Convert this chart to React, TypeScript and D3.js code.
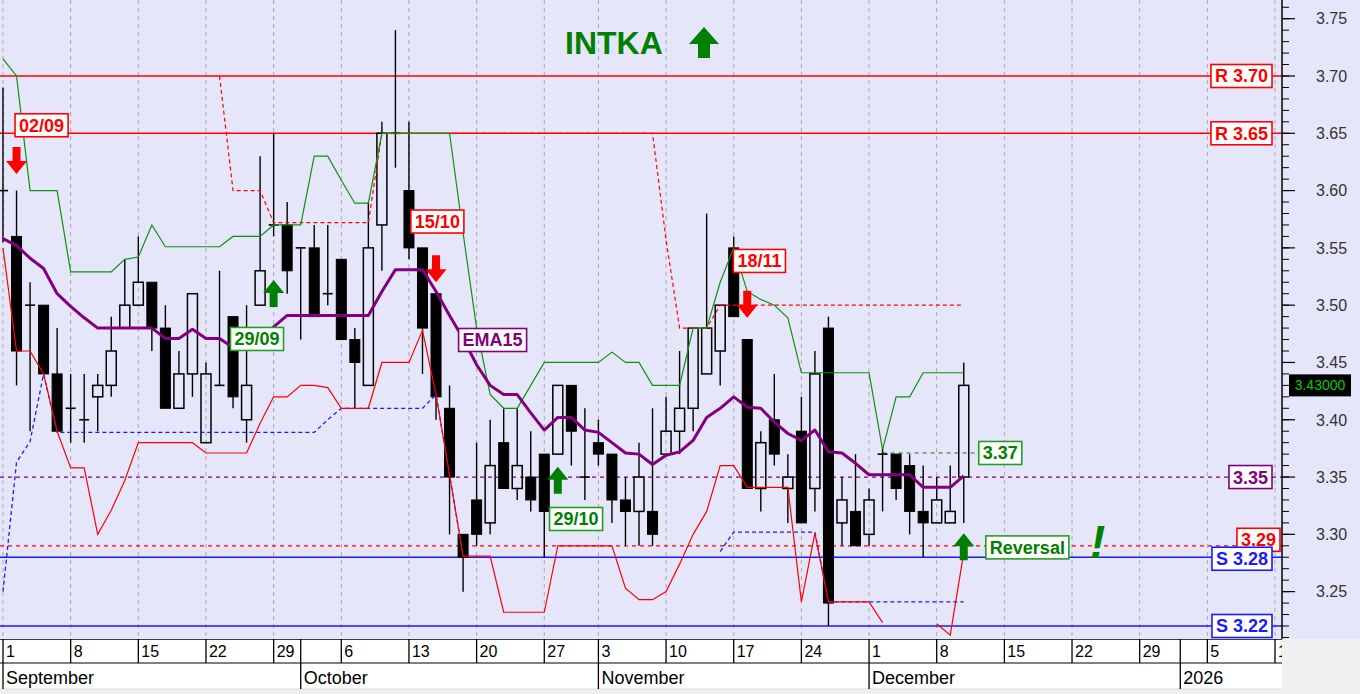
import React, { useLayoutEffect, useRef, useState } from 'react';
import * as d3 from 'd3';

// ---------- DATA ----------
const dates = [
  '01/09','02/09','03/09','04/09','05/09','08/09','09/09','10/09','11/09','12/09',
  '15/09','16/09','17/09','18/09','19/09','22/09','23/09','24/09','25/09','26/09',
  '29/09','30/09','01/10','02/10','03/10','06/10','07/10','08/10','09/10','10/10',
  '13/10','14/10','15/10','16/10','17/10','20/10','21/10','22/10','23/10','24/10',
  '27/10','29/10','30/10','31/10','03/11','04/11','05/11','06/11','07/11','10/11',
  '11/11','12/11','13/11','14/11','17/11','18/11','19/11','20/11','21/11','24/11',
  '25/11','26/11','27/11','28/11','01/12','02/12','03/12','04/12','05/12','08/12',
  '09/12','10/12',
];
const open = [
  3.60,3.56,3.50,3.50,3.44,3.41,3.40,3.42,3.43,3.48,
  3.50,3.52,3.48,3.41,3.44,3.38,3.43,3.49,3.40,3.50,
  3.57,3.57,3.55,3.55,3.51,3.54,3.47,3.43,3.57,3.65,
  3.60,3.55,3.51,3.41,3.30,3.33,3.31,3.38,3.34,3.35,
  3.37,3.37,3.43,3.35,3.38,3.37,3.33,3.32,3.32,3.37,
  3.39,3.41,3.44,3.46,3.55,3.47,3.34,3.40,3.34,3.39,
  3.34,3.48,3.31,3.32,3.30,3.37,3.37,3.36,3.32,3.31,
  3.31,3.35,
];
const high = [
  3.69,3.60,3.52,3.50,3.48,3.44,3.44,3.44,3.49,3.54,
  3.56,3.52,3.50,3.46,3.51,3.45,3.53,3.49,3.50,3.63,
  3.65,3.59,3.55,3.57,3.57,3.54,3.48,3.59,3.66,3.74,
  3.66,3.55,3.51,3.43,3.30,3.38,3.40,3.41,3.41,3.39,
  3.37,3.43,3.43,3.41,3.40,3.37,3.35,3.38,3.41,3.42,
  3.46,3.48,3.58,3.50,3.56,3.47,3.39,3.44,3.37,3.42,
  3.46,3.49,3.35,3.37,3.34,3.375,3.37,3.37,3.36,3.35,
  3.36,3.45,
];
const low = [
  3.555,3.43,3.39,3.44,3.39,3.38,3.38,3.39,3.42,3.48,
  3.50,3.46,3.41,3.41,3.42,3.38,3.43,3.41,3.38,3.50,
  3.56,3.51,3.47,3.49,3.50,3.47,3.41,3.43,3.53,3.62,
  3.54,3.44,3.40,3.30,3.25,3.29,3.30,3.34,3.33,3.32,
  3.28,3.37,3.36,3.33,3.36,3.31,3.29,3.29,3.29,3.37,
  3.37,3.39,3.44,3.43,3.49,3.34,3.32,3.36,3.31,3.31,
  3.32,3.22,3.29,3.29,3.29,3.32,3.33,3.30,3.28,3.31,
  3.31,3.31,
];
const close = [
  3.60,3.46,3.50,3.44,3.39,3.41,3.40,3.43,3.46,3.50,
  3.52,3.48,3.41,3.44,3.51,3.44,3.43,3.42,3.43,3.53,
  3.57,3.53,3.55,3.49,3.51,3.47,3.45,3.55,3.65,3.65,
  3.55,3.48,3.42,3.35,3.28,3.30,3.36,3.34,3.36,3.33,
  3.32,3.43,3.39,3.35,3.37,3.33,3.32,3.35,3.30,3.39,
  3.41,3.48,3.48,3.50,3.49,3.34,3.38,3.37,3.35,3.31,
  3.44,3.24,3.33,3.29,3.33,3.37,3.34,3.32,3.31,3.33,
  3.32,3.43,
];
const ema15 = [
  3.558,3.552,3.541,3.532,3.510,3.499,3.489,3.480,3.480,3.480,
  3.480,3.480,3.471,3.471,3.479,3.471,3.471,3.463,3.463,3.471,
  3.481,3.491,3.491,3.491,3.491,3.491,3.491,3.491,3.512,3.531,
  3.531,3.531,3.512,3.491,3.471,3.448,3.430,3.422,3.422,3.406,
  3.391,3.402,3.402,3.391,3.389,3.380,3.371,3.370,3.361,3.369,
  3.372,3.382,3.402,3.410,3.420,3.411,3.410,3.398,3.388,3.382,
  3.391,3.372,3.371,3.362,3.352,3.352,3.352,3.352,3.341,3.341,
  3.341,3.351,
];
const upperBand = [
  3.715,3.700,3.600,3.600,3.600,3.529,3.529,3.529,3.529,3.540,
  3.542,3.570,3.551,3.551,3.551,3.551,3.551,3.560,3.560,3.560,
  3.570,3.570,3.570,3.630,3.630,3.609,3.589,3.589,3.650,3.650,
  3.650,3.650,3.650,3.650,3.563,3.480,3.422,3.410,3.410,3.430,
  3.450,3.450,3.450,3.450,3.450,3.459,3.450,3.450,3.430,3.430,
  3.430,3.480,3.480,3.520,3.550,3.512,3.505,3.500,3.489,3.441,
  3.441,3.441,3.441,3.441,3.441,3.374,3.420,3.420,3.441,3.441,
  3.441,3.441,
];
const lowerBand: (number | null)[] = [
  3.550,3.460,3.460,3.440,3.390,3.358,3.358,3.300,3.321,3.347,
  3.380,3.380,3.380,3.380,3.380,3.371,3.371,3.371,3.371,3.397,
  3.420,3.420,3.430,3.430,3.428,3.410,3.410,3.410,3.450,3.450,
  3.450,3.478,3.422,3.352,3.281,3.281,3.281,3.232,3.232,3.232,
  3.232,3.290,3.290,3.290,3.290,3.290,3.253,3.243,3.243,3.250,
  3.274,3.300,3.320,3.360,3.360,3.341,3.341,3.341,3.341,3.241,
  3.301,3.241,3.241,3.241,3.241,3.223,null,null,null,3.222,
  3.212,3.284,
];
const stopAbove: (number | null)[] = [
  null,null,null,null,null,null,null,null,null,null,
  null,null,null,null,null,null,3.700,3.600,3.600,3.600,
  3.572,3.572,3.572,3.572,3.572,3.572,3.572,3.572,3.650,3.650,
  3.650,3.650,3.650,3.650,3.650,3.650,3.650,3.650,3.650,3.650,
  3.650,3.650,3.650,3.650,3.650,3.650,3.650,3.650,3.650,3.557,
  3.480,3.480,3.480,3.500,3.500,3.500,3.500,3.500,3.500,3.500,
  3.500,3.500,3.500,3.500,3.500,3.500,3.500,3.500,3.500,3.500,
  3.500,3.500,
];
const stopBelow: (number | null)[] = [
  3.250,3.363,3.381,3.440,3.389,3.389,3.389,3.389,3.389,3.389,
  3.389,3.389,3.389,3.389,3.389,3.389,3.389,3.389,3.389,3.389,
  3.389,3.389,3.389,3.389,3.400,3.410,3.410,3.410,3.410,3.410,
  3.410,3.410,3.422,3.352,3.281,null,null,null,null,null,
  null,null,null,null,null,null,null,null,null,null,
  null,null,null,3.285,3.302,3.302,3.302,3.302,3.302,3.302,
  3.302,3.241,3.241,3.241,3.241,3.241,3.241,3.241,3.241,3.241,
  3.241,3.241,
];

const weekTickIdx = [0,5,10,15,20,25,30,35,40,44,49,54,59,64,69,74,79,84,89,94];
const weekTickLabels = ['1','8','15','22','29','6','13','20','27','3','10','17','24','1','8','15','22','29','5','12'];
const monthStartIdx = [0,22,44,64,87];
const monthLabels = ['September','October','November','December','2026'];
const priceTicks = [3.25,3.30,3.35,3.40,3.45,3.50,3.55,3.60,3.65,3.70,3.75];

const levelValues = [3.70,3.65,3.35,3.29,3.28,3.22];
const levelLabels = ['R 3.70','R 3.65','3.35','3.29','S 3.28','S 3.22'];
const levelKinds = ['res','res','ema','stop','sup','sup'];

const signalIdx = [1,20,32,41,55];
const signalDir = ['down','up','down','up','down'];
const signalText = ['02/09','29/09','15/10','29/10','18/11'];
const signalArrowPrice = [3.6145,3.522,3.520,3.359,3.489];
const signalLabelIdx = [2.85,18.77,32.1,42.35,55.9];
const signalLabelPrice = [3.657,3.4705,3.573,3.3134,3.5386];

const bandLevelStartIdx = 65;
const bandLevel = 3.371;
const bandLevelLabel = '3.37';
const bandLevelLabelIdx = 73.7;
const emaLabelIdx = 36.18;
const emaLabelPrice = 3.4696;
const reversalIdx = 71;
const reversalArrowPrice = 3.301;
const reversalLabelIdx = 75.7;
const reversalLabelPrice = 3.2886;
const exclaimIdx = 80.9;
const exclaimPrice = 3.279;
const lastPrice = 3.43;
const ticker = 'INTKA';

// ---------- LAYOUT ----------
const W = 1360, H = 694;
const PLOT_R = 1282, PLOT_B = 639;
const ROW1_B = 663, ROW2_B = 689;
const FONT = "'Liberation Sans', Arial, Helvetica, sans-serif";
const BG = '#e6e6fa';

const xs = d3.scaleLinear().domain([0, 94]).range([3, 1275]);
const ys = d3.scaleLinear().domain([3.22, 3.70]).range([626, 76]);

const GREEN = '#008000';
const RED = '#ff0000';
const BLUE = '#1a1aff';
const PURPLE = '#800080';

function BoxLabel(props: { x: number; y: number; text: string; color: string; border?: string; anchor?: string; fontSize?: number; h?: number; padX?: number }) {
  const { x, y, text, color, border = color, anchor = 'middle', fontSize = 18, h = 23, padX = 4 } = props;
  const ref = useRef<SVGTextElement>(null);
  const [w, setW] = useState(text.length * fontSize * 0.6);
  useLayoutEffect(() => {
    if (ref.current) setW(ref.current.getComputedTextLength());
  }, [text, fontSize]);
  const bw = w + padX * 2;
  const left = anchor === 'middle' ? x - bw / 2 : anchor === 'end' ? x - bw : x;
  return (
    <g>
      <rect x={left} y={y - h / 2} width={bw} height={h} fill="#ffffff" stroke={border} strokeWidth={1.6} />
      <text ref={ref} x={left + padX} y={y} dy="0.36em" fill={color} fontSize={fontSize} fontWeight="bold" fontFamily={FONT}>{text}</text>
    </g>
  );
}

function Arrow(props: { x: number; tip: number; dir: string; color: string; w?: number; hh?: number; sw?: number; len?: number }) {
  const { x, tip, dir, color, w = 21, hh = 13, sw = 8, len = 27 } = props;
  const s = dir === 'up' ? 1 : -1;
  const p = d3.path();
  p.moveTo(x, tip);
  p.lineTo(x + w / 2, tip + s * hh);
  p.lineTo(x + sw / 2, tip + s * hh);
  p.lineTo(x + sw / 2, tip + s * len);
  p.lineTo(x - sw / 2, tip + s * len);
  p.lineTo(x - sw / 2, tip + s * hh);
  p.lineTo(x - w / 2, tip + s * hh);
  p.closePath();
  return <path d={p.toString()} fill={color} />;
}

export default function App() {
  const lineGen = d3.line<number | null>()
    .defined((v) => v != null)
    .x((_, i) => xs(i))
    .y((v) => ys(v as number));

  const minorTicks = d3.range(321, 377).map((v) => v / 100);
  const dayRowSeps = Array.from(new Set([...weekTickIdx, ...monthStartIdx])).sort((a, b) => a - b);

  const levelStyle = (k: string) => {
    if (k === 'res') return { stroke: RED, dash: undefined, color: RED, width: 1.5 };
    if (k === 'sup') return { stroke: BLUE, dash: undefined, color: BLUE, width: 1.5 };
    if (k === 'ema') return { stroke: PURPLE, dash: '4,4', color: PURPLE, width: 1.3 };
    return { stroke: RED, dash: '4,4', color: RED, width: 1.3 };
  };
  const levelLabelRight = (k: string) => (k === 'stop' ? 1280 : 1272);
  const levelLabelShift = (k: string, v: number) => (k === 'stop' ? -6 : k === 'sup' && v > 3.25 ? 1.5 : 0);

  return (
    <svg width={W} height={H} style={{ position: 'absolute', left: 0, top: 0, display: 'block' }} fontFamily={FONT}>
      <defs>
        <clipPath id="plotClip"><rect x={0} y={0} width={PLOT_R} height={PLOT_B} /></clipPath>
        <clipPath id="axisClip"><rect x={0} y={PLOT_B} width={PLOT_R} height={H - PLOT_B} /></clipPath>
      </defs>
      {/* backgrounds */}
      <rect x={0} y={0} width={W} height={PLOT_B} fill={BG} />
      <rect x={0} y={PLOT_B} width={W} height={H - PLOT_B} fill="#f0f0f0" />
      <rect x={0} y={PLOT_B} width={PLOT_R} height={ROW2_B - PLOT_B} fill="#ffffff" />

      <g clipPath="url(#plotClip)">
        {/* vertical grid */}
        {weekTickIdx.map((i) => (
          <line key={'g' + i} x1={xs(i)} x2={xs(i)} y1={0} y2={PLOT_B} stroke="#a8a8a8" strokeDasharray="4,4" strokeWidth={1} />
        ))}
        {/* level lines */}
        {levelValues.map((v, k) => {
          const st = levelStyle(levelKinds[k]);
          return <line key={'lv' + k} x1={0} x2={PLOT_R} y1={ys(v)} y2={ys(v)} stroke={st.stroke} strokeWidth={st.width} strokeDasharray={st.dash} />;
        })}
        {/* band level dashed */}
        <line x1={xs(bandLevelStartIdx)} x2={xs(bandLevelLabelIdx)} y1={ys(bandLevel)} y2={ys(bandLevel)} stroke={GREEN} strokeDasharray="4,4" strokeWidth={1.2} />

        {/* candles */}
        {dates.map((d, i) => {
          const x = xs(i);
          const o = open[i], c = close[i];
          const top = ys(Math.max(o, c));
          const bot = ys(Math.min(o, c));
          const bw = 10;
          const doji = Math.abs(o - c) < 1e-9;
          if (doji) {
            return (
              <g key={d}>
                <line x1={x} x2={x} y1={ys(high[i])} y2={ys(low[i])} stroke="#000" strokeWidth={1.4} />
                <line x1={x - bw / 2} x2={x + bw / 2} y1={top} y2={top} stroke="#000" strokeWidth={1.6} />
              </g>
            );
          }
          const bear = c < o;
          return (
            <g key={d}>
              <line x1={x} x2={x} y1={ys(high[i])} y2={top} stroke="#000" strokeWidth={1.4} />
              <line x1={x} x2={x} y1={bot} y2={ys(low[i])} stroke="#000" strokeWidth={1.4} />
              <rect x={x - bw / 2} y={top} width={bw} height={Math.max(1, bot - top)}
                fill={bear ? '#000' : 'none'} stroke="#000" strokeWidth={bear ? 1 : 1.5} />
            </g>
          );
        })}

        {/* indicator lines */}
        <path d={lineGen(stopAbove) || ''} fill="none" stroke={RED} strokeWidth={1.2} strokeDasharray="4,3" />
        <path d={lineGen(stopBelow) || ''} fill="none" stroke={BLUE} strokeWidth={1.3} strokeDasharray="4,3" />
        <path d={lineGen(lowerBand) || ''} fill="none" stroke={RED} strokeWidth={1.2} />
        <path d={lineGen(upperBand) || ''} fill="none" stroke="#109010" strokeWidth={1.2} />
        <path d={lineGen(ema15) || ''} fill="none" stroke={PURPLE} strokeWidth={3} strokeLinejoin="round" />
      </g>

      {/* right axis */}
      <line x1={PLOT_R} x2={PLOT_R} y1={0} y2={PLOT_B} stroke="#000" strokeWidth={1.5} />
      {minorTicks.map((v) => (
        <line key={'mt' + v} x1={PLOT_R} x2={PLOT_R + 7} y1={ys(v)} y2={ys(v)} stroke="#000" strokeWidth={1} />
      ))}
      {priceTicks.map((v) => (
        <g key={'pt' + v}>
          <line x1={PLOT_R} x2={PLOT_R + 13} y1={ys(v)} y2={ys(v)} stroke="#000" strokeWidth={1.2} />
          <text x={1316} y={ys(v)} dy="0.36em" fontSize={16} fill="#333">{v.toFixed(2)}</text>
        </g>
      ))}
      {/* last price marker */}
      <rect x={1289} y={ys(lastPrice) - 11} width={62} height={22} fill="#000" />
      <text x={1320} y={ys(lastPrice)} dy="0.36em" textAnchor="middle" fontSize={14} fill="#00cc00">{lastPrice.toFixed(5)}</text>

      {/* level labels */}
      {levelValues.map((v, k) => {
        const st = levelStyle(levelKinds[k]);
        return <BoxLabel key={'ll' + k} x={levelLabelRight(levelKinds[k])} y={ys(v) + levelLabelShift(levelKinds[k], v)} text={levelLabels[k]} color={st.color} anchor="end" />;
      })}

      {/* annotations */}
      <BoxLabel x={xs(emaLabelIdx)} y={ys(emaLabelPrice)} text="EMA15" color={PURPLE} />
      <BoxLabel x={xs(bandLevelLabelIdx)} y={ys(bandLevel)} text={bandLevelLabel} color={GREEN} border="#20a020" />
      {signalIdx.map((idx, k) => {
        const up = signalDir[k] === 'up';
        const col = up ? GREEN : RED;
        return (
          <g key={'sig' + k}>
            <Arrow x={xs(idx)} tip={ys(signalArrowPrice[k])} dir={signalDir[k]} color={col} />
            <BoxLabel x={xs(signalLabelIdx[k])} y={ys(signalLabelPrice[k])} text={signalText[k]} color={col} border={up ? '#20a020' : RED} />
          </g>
        );
      })}
      <Arrow x={xs(reversalIdx)} tip={ys(reversalArrowPrice)} dir="up" color={GREEN} />
      <BoxLabel x={xs(reversalLabelIdx)} y={ys(reversalLabelPrice)} text="Reversal" color={GREEN} border="#20a020" />
      <text x={xs(exclaimIdx)} y={ys(exclaimPrice)} textAnchor="middle" fontSize={46} fontWeight="bold" fontStyle="italic" fill={GREEN}>!</text>

      {/* title */}
      <text x={565} y={54} fontSize={32} fontWeight="bold" fill={GREEN}>{ticker}</text>
      <Arrow x={704} tip={27} dir="up" color={GREEN} w={30} hh={17} sw={12} len={31} />

      {/* bottom axis */}
      <g clipPath="url(#axisClip)">
        <line x1={0} x2={PLOT_R} y1={PLOT_B} y2={PLOT_B} stroke="#000" strokeWidth={1.5} />
        <line x1={0} x2={PLOT_R} y1={ROW1_B} y2={ROW1_B} stroke="#000" strokeWidth={1} />
        <line x1={0} x2={PLOT_R} y1={ROW2_B} y2={ROW2_B} stroke="#d8d8d8" strokeWidth={1} />
        {dayRowSeps.map((i) => (
          <line key={'ds' + i} x1={xs(i)} x2={xs(i)} y1={PLOT_B} y2={ROW1_B} stroke="#000" strokeWidth={1.3} />
        ))}
        {weekTickIdx.map((i, k) => (
          <text key={'dl' + i} x={xs(i) + 3} y={657} fontSize={16} fill="#000">{weekTickLabels[k]}</text>
        ))}
        {monthStartIdx.map((i, k) => (
          <g key={'ms' + i}>
            <line x1={xs(i)} x2={xs(i)} y1={ROW1_B} y2={ROW2_B} stroke="#000" strokeWidth={1.3} />
            <text x={xs(i) + 3} y={684} fontSize={18} fill="#000">{monthLabels[k]}</text>
          </g>
        ))}
      </g>
    </svg>
  );
}
